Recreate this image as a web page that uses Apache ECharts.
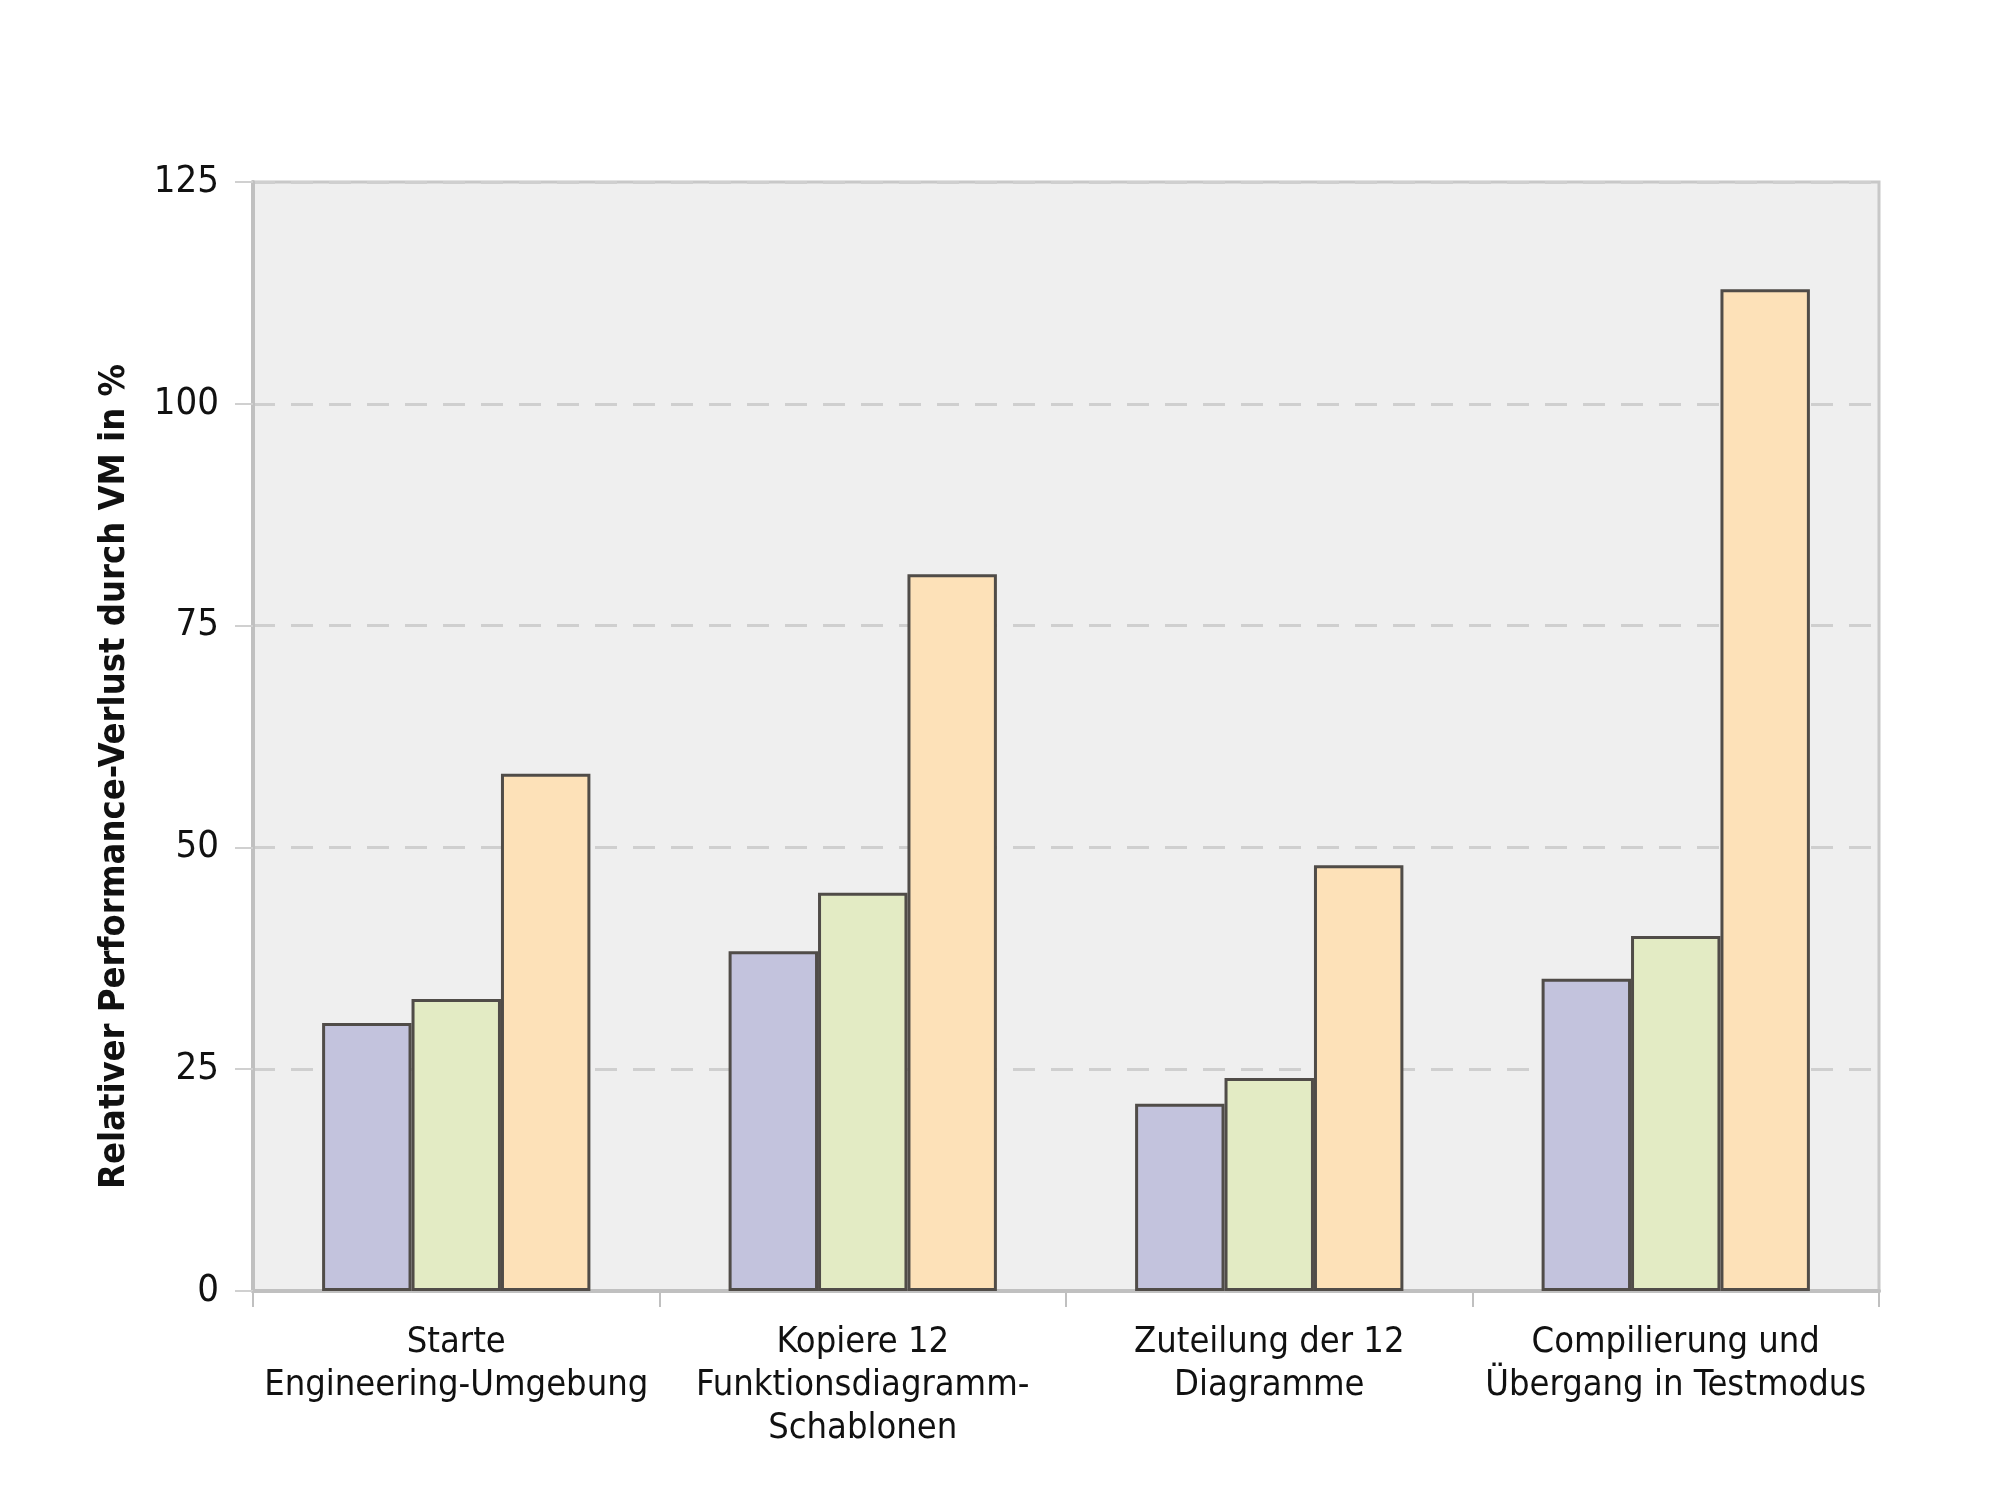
<!DOCTYPE html>
<html>
<head lang="de">
    <meta charset="UTF-8"/>
    <title>Performance-Verlust durch VM</title>
    <script src="https://cdn.jsdelivr.net/npm/echarts@6/dist/echarts.min.js"></script>
    <style>
        html, body { margin: 0; padding: 0; background: #fff; }
        #chart { width: 2000px; height: 1500px; }
    </style>
</head>
<body>
<div id="chart"></div>
<script>
    // Kategorien und Werte
    var categories = [
        'Starte\nEngineering-Umgebung',
        'Kopiere 12\nFunktionsdiagramm-\nSchablonen',
        'Zuteilung der 12\nDiagramme',
        'Compilierung und\nÜbergang in Testmodus'
    ];
    var serieA = [30.2, 38.3, 21.1, 35.2];
    var serieB = [32.9, 44.9, 24.0, 40.0];
    var serieC = [58.3, 80.8, 48.0, 112.9];
    var yTicks = [0, 25, 50, 75, 100, 125];

    var font = '"Liberation Sans Narrow", "DejaVu Sans Condensed", sans-serif';

    function bar(name, data, color) {
        return {
            name: name,
            type: 'bar',
            data: data,
            barGap: 0,
            barCategoryGap: '34%',
            itemStyle: {color: color, borderColor: '#504c48', borderWidth: 3}
        };
    }

    var myChart = echarts.init(document.getElementById('chart'));
    var option = {
        animation: false,
        backgroundColor: '#fff',
        grid: {
            left: 253, right: 121, top: 182, bottom: 209,
            show: true,
            backgroundColor: '#efefef',
            borderColor: '#c8c8c8',
            borderWidth: 3
        },
        xAxis: {
            type: 'category',
            data: categories,
            axisLine: {lineStyle: {color: '#c0c0c0', width: 4}},
            axisTick: {show: true, length: 16, lineStyle: {color: '#c0c0c0', width: 2}},
            axisLabel: {
                interval: 0, margin: 30, color: '#111', fontFamily: font,
                fontSize: 36, lineHeight: 43
            }
        },
        yAxis: {
            type: 'value',
            min: yTicks[0],
            max: yTicks[yTicks.length - 1],
            interval: 25,
            name: 'Relativer Performance-Verlust durch VM in %',
            nameLocation: 'middle',
            nameRotate: 90,
            nameGap: 120,
            nameTextStyle: {
                color: '#111', fontFamily: font, fontSize: 36, fontWeight: 'bold',
                padding: [0, 80, 0, 0]
            },
            axisLine: {show: true, lineStyle: {color: '#c0c0c0', width: 4}},
            axisTick: {show: true, length: 18, lineStyle: {color: '#d0d0d0', width: 2}},
            axisLabel: {color: '#111', fontFamily: font, fontSize: 38, margin: 34},
            splitLine: {lineStyle: {color: '#cfcfcf', width: 3, type: [22, 16]}}
        },
        series: [
            bar('Serie 1', serieA, '#c3c3dd'),
            bar('Serie 2', serieB, '#e3ebc4'),
            bar('Serie 3', serieC, '#fde1b8')
        ]
    };
    myChart.setOption(option);
</script>
</body>
</html>
